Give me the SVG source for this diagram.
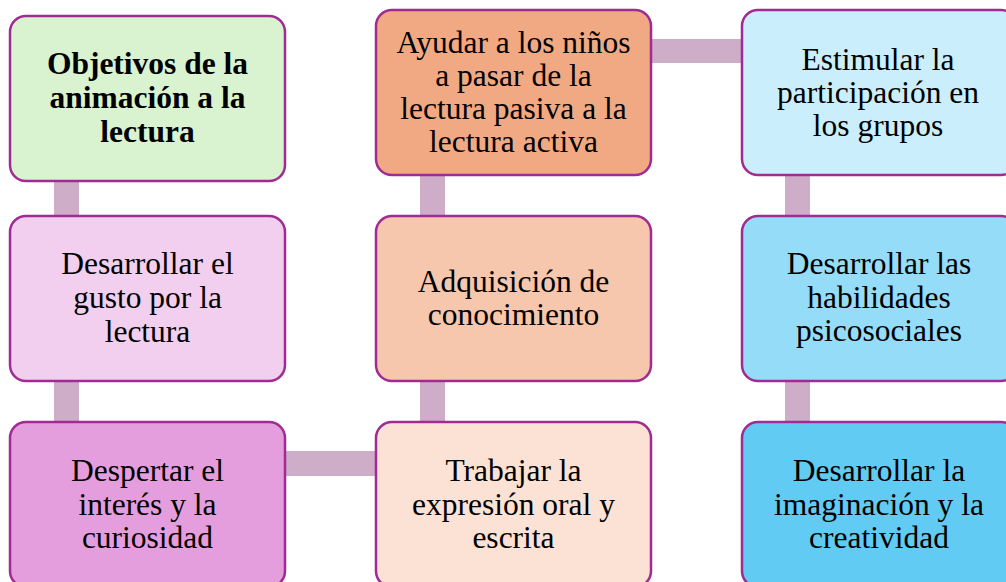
<svg xmlns="http://www.w3.org/2000/svg" width="1006" height="582" viewBox="0 0 1006 582">
<style>
.box{stroke:#A02B93;stroke-width:2.5}
.t{font-family:"Liberation Serif","Times New Roman",serif;font-size:31.5px;fill:#000;text-anchor:middle}
.b{font-weight:bold}
.c{fill:#CEADC8}
</style>
<rect width="1006" height="582" fill="#fff"/>
<g id="connectors">
<rect class="c" x="54" y="175" width="25" height="50"/>
<rect class="c" x="54" y="375" width="25" height="55"/>
<rect class="c" x="285" y="451" width="95" height="25"/>
<rect class="c" x="420" y="370" width="25" height="60"/>
<rect class="c" x="420" y="170" width="25" height="55"/>
<rect class="c" x="645" y="39" width="100" height="24"/>
<rect class="c" x="785" y="170" width="25" height="55"/>
<rect class="c" x="785" y="375" width="25" height="55"/>
</g>
<g id="n1">
<rect class="box" x="10" y="16" width="275" height="165" rx="16" fill="#D9F2D0"/>
<text class="t b" x="147.5"><tspan x="147.5" y="74">Objetivos de la</tspan><tspan x="147.5" y="108">animación a la</tspan><tspan x="147.5" y="142">lectura</tspan></text>
</g>
<g id="n2">
<rect class="box" x="10" y="216" width="275" height="165" rx="16" fill="#F2CEEF"/>
<text class="t"><tspan x="147.5" y="274">Desarrollar el</tspan><tspan x="147.5" y="308">gusto por la</tspan><tspan x="147.5" y="342">lectura</tspan></text>
</g>
<g id="n3">
<rect class="box" x="10" y="422" width="275" height="165" rx="16" fill="#E59EDD"/>
<text class="t"><tspan x="147.5" y="481">Despertar el</tspan><tspan x="147.5" y="515">interés y la</tspan><tspan x="147.5" y="548">curiosidad</tspan></text>
</g>
<g id="n4">
<rect class="box" x="376" y="422" width="275" height="165" rx="16" fill="#FBE2D5"/>
<text class="t"><tspan x="513.5" y="481">Trabajar la</tspan><tspan x="513.5" y="515">expresión oral y</tspan><tspan x="513.5" y="548">escrita</tspan></text>
</g>
<g id="n5">
<rect class="box" x="376" y="216" width="275" height="165" rx="16" fill="#F6C6AD"/>
<text class="t"><tspan x="513.5" y="292">Adquisición de</tspan><tspan x="513.5" y="325">conocimiento</tspan></text>
</g>
<g id="n6">
<rect class="box" x="376" y="10" width="275" height="165" rx="16" fill="#F1A983"/>
<text class="t"><tspan x="513.5" y="53">Ayudar a los niños</tspan><tspan x="513.5" y="86">a pasar de la</tspan><tspan x="513.5" y="119">lectura pasiva a la</tspan><tspan x="513.5" y="152">lectura activa</tspan></text>
</g>
<g id="n7">
<rect class="box" x="742" y="10" width="275" height="165" rx="16" fill="#CAEEFB"/>
<text class="t"><tspan x="878" y="70">Estimular la</tspan><tspan x="878" y="103">participación en</tspan><tspan x="878" y="136">los grupos</tspan></text>
</g>
<g id="n8">
<rect class="box" x="742" y="216" width="275" height="165" rx="16" fill="#94DCF8"/>
<text class="t"><tspan x="879" y="274">Desarrollar las</tspan><tspan x="879" y="308">habilidades</tspan><tspan x="879" y="341">psicosociales</tspan></text>
</g>
<g id="n9">
<rect class="box" x="742" y="422" width="275" height="165" rx="16" fill="#61CBF3"/>
<text class="t"><tspan x="879" y="481">Desarrollar la</tspan><tspan x="879" y="515">imaginación y la</tspan><tspan x="879" y="548">creatividad</tspan></text>
</g>
</svg>
